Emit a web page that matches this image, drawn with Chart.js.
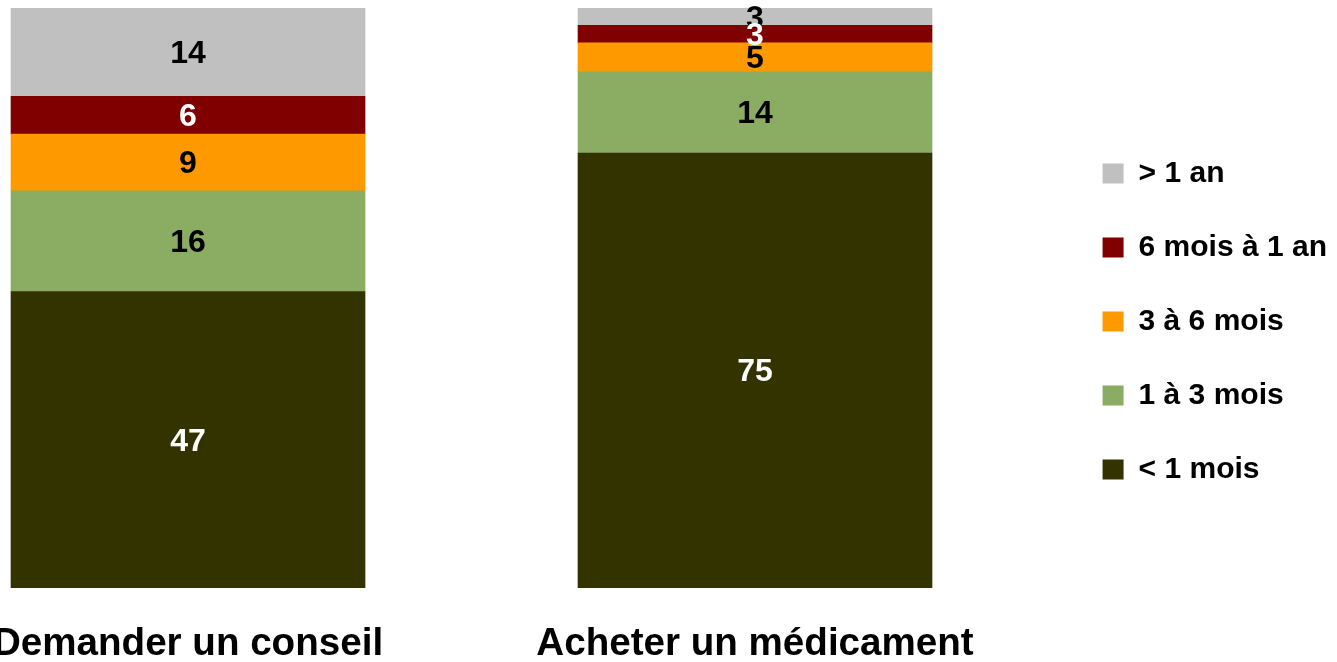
<!DOCTYPE html>
<html><head><meta charset="utf-8">
<script src="https://cdn.jsdelivr.net/npm/chart.js@4.4.0/dist/chart.umd.min.js"></script>
<style>html,body{margin:0;padding:0;background:#fff;overflow:hidden}canvas{display:block}</style>
</head><body>
<canvas id="c" width="1337" height="662"></canvas>
<script>
// ---- data ----
const categories = ['Demander un conseil', 'Acheter un médicament'];
const seriesNames = ['< 1 mois', '1 à 3 mois', '3 à 6 mois', '6 mois à 1 an', '> 1 an'];
const lessThan1Month   = [47, 75];
const oneTo3Months     = [16, 14];
const threeTo6Months   = [9, 5];
const sixMonthsTo1Year = [6, 3];
const moreThan1Year    = [14, 3];
const seriesValues = [lessThan1Month, oneTo3Months, threeTo6Months, sixMonthsTo1Year, moreThan1Year];

// ---- styles ----
const seriesColors = ['#333300', '#8AAD63', '#FF9900', '#800000', '#C0C0C0'];
const labelColors  = ['#FFFFFF', '#000000', '#000000', '#FFFFFF', '#000000'];
const FONT = '"Liberation Sans", Arial, sans-serif';
const X_MIN = -0.3316, X_MAX = 1.5354;

const totals = categories.map((c, j) => seriesValues.reduce((s, arr) => s + arr[j], 0));

const datasets = seriesNames.map((name, i) => ({
  label: name,
  data: seriesValues[i].map((v, j) => ({ x: j, y: v / totals[j] * 100 })),
  backgroundColor: seriesColors[i],
  borderWidth: 0,
  barThickness: 354,
  stack: 's'
}));

const valueLabels = {
  id: 'valueLabels',
  afterLayout(chart) {
    // let the category labels extend to the bottom of the canvas
    chart.scales.x.bottom = chart.height;
  },
  afterDatasetsDraw(chart) {
    const ctx = chart.ctx;
    ctx.save();
    ctx.font = 'bold 32px ' + FONT;
    ctx.textAlign = 'center';
    ctx.textBaseline = 'middle';
    for (let i = chart.data.datasets.length - 1; i >= 0; i--) {
      const meta = chart.getDatasetMeta(i);
      meta.data.forEach((el, j) => {
        ctx.fillStyle = labelColors[i];
        ctx.fillText(String(seriesValues[i][j]), el.x, (el.y + el.base) / 2 + 2);
      });
    }
    ctx.restore();
  }
};

new Chart(document.getElementById('c'), {
  type: 'bar',
  data: { datasets },
  plugins: [valueLabels],
  options: {
    responsive: false,
    animation: false,
    devicePixelRatio: 1,
    layout: { padding: { top: 8, bottom: 27, left: 0, right: 0 } },
    plugins: {
      tooltip: { enabled: false },
      legend: {
        position: 'right',
        align: 'center',
        reverse: true,
        labels: {
          boxWidth: 21, boxHeight: 20, padding: 44, color: '#000',
          font: { family: FONT, size: 30, weight: 'bold' }
        }
      }
    },
    scales: {
      x: {
        type: 'linear', min: X_MIN, max: X_MAX, offset: false,
        grid: { display: false, drawTicks: false },
        border: { display: false },
        afterBuildTicks: s => { s.ticks = categories.map((c, i) => ({ value: i })); },
        afterFit: s => { s.paddingLeft = 0; s.paddingRight = 0; s.height = 47; },
        ticks: {
          autoSkip: false, maxRotation: 0, minRotation: 0, padding: 33, color: '#000',
          font: { family: FONT, size: 38.6, weight: 'bold' },
          callback: v => categories[v]
        }
      },
      y: { display: false, stacked: true, min: 0, max: 100 }
    }
  }
});
</script>
</body></html>
